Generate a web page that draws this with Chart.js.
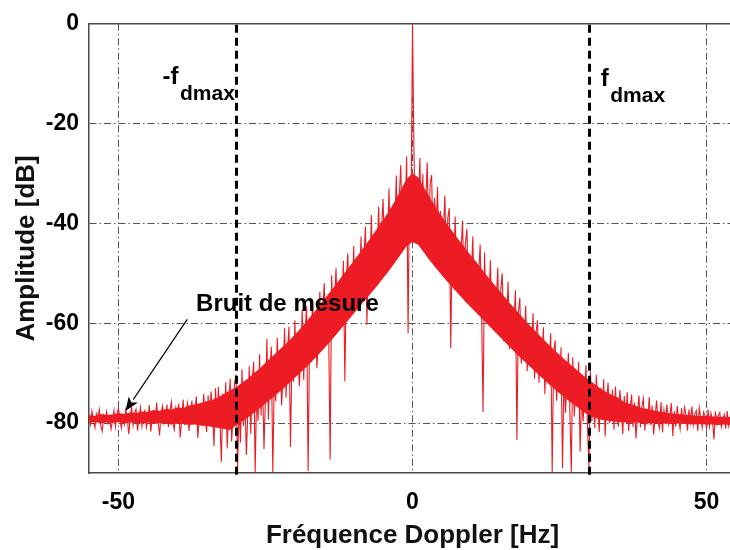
<!DOCTYPE html>
<html>
<head>
<meta charset="utf-8">
<script src="https://cdn.jsdelivr.net/npm/chart.js@4"></script>
<style>
  html, body { margin: 0; padding: 0; background: #fff; overflow: hidden; }
  #wrap { width: 736px; height: 550px; }
</style>
</head>
<body>
<div id="wrap"><canvas id="c" width="736" height="550"></canvas></div>
<script>
// ---- Data ----
const freqStart = -55;      // Hz, first sample
const freqStep = 0.25;      // Hz, sample spacing of the spectrum trace
const coreStep = 1;         // Hz, spacing of the dense-band edges

// Amplitude [dB], -55 .. -30.25 Hz (measurement noise floor, left)
const ampNoiseLeft = [
  -78.9,-80.3,-77.6,-79.4, -80.9,-78.1,-79.0,-77.3,
  -80.5,-81.6,-78.4,-79.2, -77.7,-80.0,-78.8,-81.2,
  -79.5,-77.5,-80.7,-78.2, -77.0,-79.1,-81.0,-78.6,
  -80.2,-77.4,-78.9,-82.2, -79.3,-76.8,-80.4,-78.0,
  -77.2,-81.5,-79.0,-76.9, -80.6,-78.3,-77.5,-80.9,
  -79.4,-76.4,-81.7,-78.8, -77.9,-80.2,-75.9,-79.6,
  -82.5,-78.0,-76.6,-80.1, -79.2,-76.3,-80.8,-77.7,
  -75.8,-79.9,-81.3,-77.0, -78.5,-76.1,-82.9,-79.3,
  -75.3,-80.4,-77.8,-76.0, -81.6,-78.2,-75.5,-80.0,
  -77.4,-74.7,-83.0,-79.1, -76.2,-80.6,-74.2,-78.7,
  -81.8,-74.5,-79.4,-73.7, -77.6,-84.6,-73.0,-80.3,
  -72.7,-78.9,-87.8,-74.1, -80.6,-71.8,-85.1,-76.4,
  -71.1,-83.7,-78.2,-72.0
];
// Amplitude [dB], -30 .. -0.25 Hz (Doppler spectrum, rising side)
const ampRiseLeft = [
  -70.3,-89.5,-76.8,-83.9, -69.2,-80.6,-73.5,-86.4, -77.9,-68.6,-82.2,-71.4,
  -67.7,-89.8,-74.0,-79.6, -66.2,-78.5,-70.8,-85.2, -74.6,-63.1,-79.3,-68.9,
  -64.7,-89.9,-71.3,-75.6, -62.9,-73.6,-67.8,-76.4, -70.2,-61.0,-74.9,-65.4,
  -60.7,-84.8,-67.1,-71.7, -59.4,-70.5,-63.8,-72.6, -66.9,-57.3,-71.3,-61.5,
  -56.6,-89.6,-63.7,-67.8, -55.2,-66.6,-59.9,-69.0, -62.4,-53.7,-65.5,-57.1,
  -52.0,-63.8,-56.4,-61.9, -87.3,-50.4,-60.1,-55.3, -49.0,-60.6,-53.5,-58.9,
  -56.8,-47.5,-71.6,-51.2, -46.0,-56.7,-50.3,-58.0, -44.5,-55.4,-49.6,-52.9,
  -51.7,-42.6,-54.3,-46.9, -40.6,-60.3,-45.2,-51.6, -38.3,-50.6,-43.9,-48.1,
  -45.7,-36.6,-49.9,-40.8, -35.1,-47.4,-39.6,-45.8, -33.0,-46.5,-37.4,-43.1,
  -40.9,-30.4,-45.3,-34.8, -28.3,-42.0,-32.6,-38.7, -26.6,-62.0,-30.9,-38.4
];
// Amplitude [dB] at 0 Hz (direct-path line)
const ampPeak = [0];
// Amplitude [dB], 0.25 .. 30 Hz (Doppler spectrum, falling side)
const ampFallRight = [
  -26.1,-39.6,-31.2,-37.8, -26.9,-40.7,-30.1,-42.4, -35.8,-27.8,-43.6,-32.0,
  -30.3,-45.1,-34.9,-41.6, -32.7,-47.2,-37.5,-44.0, -41.9,-34.4,-48.5,-38.9,
  -36.9,-65.0,-42.3,-49.6, -38.6,-51.4,-43.8,-47.5, -46.2,-39.4,-52.7,-44.1,
  -41.1,-54.6,-46.8,-51.0, -42.6,-56.2,-48.2,-53.3, -50.4,-44.2,-57.9,-77.8,
  -45.8,-58.6,-51.5,-55.1, -47.4,-60.9,-52.7,-57.8, -55.6,-48.9,-62.4,-53.2,
  -50.0,-63.6,-56.1,-60.2, -51.7,-65.2,-57.4,-62.0, -59.9,-53.4,-83.4,-57.8,
  -54.9,-68.1,-60.6,-64.9, -56.5,-69.6,-62.3,-66.8, -64.4,-58.0,-71.1,-61.9,
  -59.4,-71.9,-65.6,-69.4, -60.8,-74.2,-66.3,-71.3, -68.5,-62.0,-89.8,-65.9,
  -63.4,-75.5,-69.2,-72.8, -64.8,-89.0,-70.5,-77.9, -71.8,-65.9,-77.5,-89.9,
  -66.8,-78.7,-72.4,-75.8, -67.7,-85.7,-73.9,-79.7, -74.8,-68.4,-80.6,-89.0
];
// Amplitude [dB], 30.25 .. 55 Hz (measurement noise floor, right)
const ampNoiseRight = [
  -69.6,-79.7,-74.6,-81.0, -70.3,-76.2,-81.8,-72.9,
  -79.4,-71.2,-82.7,-75.8, -71.9,-80.0,-76.6,-73.3,
  -81.3,-72.7,-78.1,-80.7, -73.4,-76.9,-82.2,-74.6,
  -79.6,-73.8,-81.6,-77.2, -74.3,-80.8,-75.9,-83.1,
  -78.0,-74.5,-80.9,-76.8, -75.1,-81.5,-77.9,-79.7,
  -74.8,-80.4,-76.5,-82.3, -78.6,-75.5,-79.8,-81.0,
  -75.8,-81.9,-77.4,-79.5, -76.3,-80.2,-78.7,-76.0,
  -82.6,-77.6,-80.7,-76.6, -79.2,-81.2,-77.0,-80.0,
  -76.9,-78.4,-81.5,-77.3, -79.9,-76.7,-80.3,-78.1,
  -77.5,-81.6,-76.9,-79.0, -80.9,-77.8,-78.6,-81.3,
  -77.3,-80.6,-78.0,-79.4, -83.3,-77.7,-80.1,-78.5,
  -77.9,-80.8,-79.2,-78.3, -81.1,-77.6,-80.5,-78.8,
  -78.2,-80.3,-77.9,-81.4
];

// Edges of the solid (dense) part of the spectrum band, -55 .. 55 Hz every 1 Hz
const coreUpper = [
  -78.4,-78.6,-78.2,-78.4,-78.3,-78.0,-78.2,-77.9,-78.0,-77.7,
  -77.8,-77.4,-77.6,-77.2,-77.3,-76.9,-77.0,-76.5,-76.3,-76.0,
  -75.6,-75.3,-74.8,-74.1,-73.4,
  -72.8,-71.9,-71.1,-70.0,-69.1,-67.9,-66.8,-65.7,-64.6,-63.5,
  -62.3,-61.0,-59.6,-58.2,-56.7,-55.2,-53.7,-52.2,-50.6,-49.1,
  -47.5,-45.9,-44.3,-42.7,-41.0,-39.3,-37.5,-35.5,-33.3,-31.1,
  -30.0,
  -30.8,-32.9,-34.9,-36.8,-38.6,-40.3,-41.9,-43.5,-45.0,-46.5,
  -48.0,-49.5,-51.0,-52.4,-53.8,-55.2,-56.6,-57.9,-59.2,-60.5,
  -61.7,-62.9,-64.1,-65.2,-66.3,-67.4,-68.4,-69.4,-70.4,-71.3,
  -72.2,-73.1,-73.8,-74.4,-74.9,
  -75.8,-76.2,-76.6,-77.0,-77.2,-77.5,-77.7,-77.9,-78.1,-78.2,
  -78.3,-78.4,-78.5,-78.6,-78.6,-78.7,-78.7,-78.8,-78.8,-78.9
];
const coreLower = [
  -80.0,-79.8,-80.1,-79.9,-80.0,-79.8,-80.1,-79.9,-80.0,-80.1,
  -79.9,-80.2,-80.0,-80.1,-80.3,-80.1,-80.2,-80.4,-80.3,-80.5,
  -80.6,-80.8,-81.0,-81.2,-81.4,
  -80.5,-79.7,-78.9,-78.0,-77.1,-76.1,-75.1,-74.1,-73.1,-72.0,
  -70.9,-69.8,-68.7,-67.5,-66.3,-65.0,-63.7,-62.3,-60.9,-59.5,
  -58.1,-56.7,-55.3,-53.9,-52.5,-51.0,-49.5,-47.9,-46.2,-44.5,
  -43.7,
  -44.3,-45.9,-47.5,-49.0,-50.4,-51.8,-53.1,-54.4,-55.7,-56.9,
  -58.1,-59.3,-60.5,-61.7,-62.9,-64.1,-65.3,-66.5,-67.6,-68.7,
  -69.8,-70.9,-72.0,-73.0,-74.0,-75.0,-75.9,-76.8,-77.7,-78.5,
  -79.0,-79.3,-79.5,-79.7,-79.8,
  -79.9,-80.0,-79.9,-80.0,-80.1,-80.0,-80.1,-80.1,-80.2,-80.1,
  -80.2,-80.2,-80.3,-80.2,-80.3,-80.3,-80.4,-80.3,-80.4,-80.4
];

const xTickValues = [-50, 0, 50];
const yTickValues = [-80, -60, -40, -20, 0];
const fdmaxLines = [-30, 30];
const xTitle = 'Fréquence Doppler [Hz]';
const yTitle = 'Amplitude [dB]';
const noiseLabel = 'Bruit de mesure';

// ---- Build points ----
const amplitudes = [].concat(ampNoiseLeft, ampRiseLeft, ampPeak, ampFallRight, ampNoiseRight);
const points = amplitudes.map((a, i) => ({ x: freqStart + i * freqStep, y: a }));
const upperPts = coreUpper.map((a, i) => ({ x: freqStart + i * coreStep, y: a }));
const lowerPts = coreLower.map((a, i) => ({ x: freqStart + i * coreStep, y: a }));

const RED = 'rgb(237,28,36)';
const FONT = "'Liberation Sans', Arial, Helvetica, sans-serif";

const overlay = {
  id: 'overlay',
  afterDatasetsDraw(chart) {
    const { ctx, chartArea: ca, scales: { x, y } } = chart;
    ctx.save();
    // top frame
    ctx.strokeStyle = '#4a4a4a';
    ctx.lineWidth = 1.5;
    ctx.beginPath();
    ctx.moveTo(ca.left, ca.top);
    ctx.lineTo(ca.right, ca.top);
    ctx.stroke();

    // f_dmax dashed lines
    ctx.strokeStyle = '#000';
    ctx.lineWidth = 3;
    ctx.setLineDash([8, 5]);
    fdmaxLines.forEach(f => {
      const px = Math.round(x.getPixelForValue(f)) + 0.5;
      ctx.beginPath();
      ctx.moveTo(px, ca.top + 1);
      ctx.lineTo(px, ca.bottom + 5);
      ctx.stroke();
    });
    ctx.setLineDash([]);

    // labels -f_dmax / f_dmax
    ctx.fillStyle = '#000';
    ctx.textBaseline = 'alphabetic';
    ctx.textAlign = 'left';
    const drawSub = (main, sub, fx, fy) => {
      const px = x.getPixelForValue(fx), py = y.getPixelForValue(fy);
      ctx.font = 'bold 24px ' + FONT;
      ctx.fillText(main, px, py);
      const w = ctx.measureText(main).width;
      ctx.font = 'bold 21px ' + FONT;
      ctx.fillText(sub, px + w + 1.5, py + 16);
    };
    drawSub('-f', 'dmax', -42.5, -12.1);
    drawSub('f', 'dmax', 32.0, -12.5);

    // noise annotation
    ctx.font = 'bold 24px ' + FONT;
    ctx.fillText(noiseLabel, x.getPixelForValue(-36.8), y.getPixelForValue(-57.6));

    // arrow
    const sx = x.getPixelForValue(-38.3), sy = y.getPixelForValue(-59.2);
    const tx = x.getPixelForValue(-48.8), ty = y.getPixelForValue(-77.6);
    const ang = Math.atan2(ty - sy, tx - sx);
    const L = 14, H = 5.5;
    const bx = tx - L * Math.cos(ang), by = ty - L * Math.sin(ang);
    ctx.strokeStyle = '#000';
    ctx.lineWidth = 1.3;
    ctx.beginPath();
    ctx.moveTo(sx, sy);
    ctx.lineTo(bx, by);
    ctx.stroke();
    ctx.beginPath();
    ctx.moveTo(tx, ty);
    ctx.lineTo(bx + H * Math.sin(ang), by - H * Math.cos(ang));
    ctx.lineTo(bx + 0.25 * L * Math.cos(ang), by + 0.25 * L * Math.sin(ang));
    ctx.lineTo(bx - H * Math.sin(ang), by + H * Math.cos(ang));
    ctx.closePath();
    ctx.fill();
    ctx.restore();
  }
};

new Chart(document.getElementById('c'), {
  type: 'line',
  data: {
    datasets: [
      { // spectrum trace (drawn last, on top)
        data: points,
        borderColor: RED,
        borderWidth: 1.1,
        pointRadius: 0,
        tension: 0,
        fill: false
      },
      { // dense band, upper edge (filled down to the lower edge)
        data: upperPts,
        borderColor: RED,
        backgroundColor: RED,
        borderWidth: 0,
        pointRadius: 0,
        tension: 0,
        fill: '+1'
      },
      { // dense band, lower edge
        data: lowerPts,
        borderColor: RED,
        borderWidth: 0,
        pointRadius: 0,
        tension: 0,
        fill: false
      }
    ]
  },
  options: {
    responsive: false,
    animation: false,
    parsing: false,
    normalized: true,
    layout: { padding: { top: 19, right: 0, left: 0, bottom: 0 } },
    plugins: { legend: { display: false }, tooltip: { enabled: false } },
    scales: {
      x: {
        type: 'linear',
        min: -55, max: 55,
        afterBuildTicks: s => { s.ticks = xTickValues.map(v => ({ value: v })); },
        afterFit: s => { s.height = 77; },
        grid: { color: '#555', lineWidth: 1, drawTicks: false },
        border: { display: true, color: '#4a4a4a', width: 1.5, dash: [7, 3, 1.5, 3] },
        ticks: { padding: 16, color: '#000', font: { family: FONT, size: 23, weight: 'bold' }, maxRotation: 0 },
        title: { display: true, text: xTitle, color: '#111', font: { family: FONT, size: 26, weight: 'bold', lineHeight: 1 }, padding: { top: 0, bottom: 1 } }
      },
      y: {
        type: 'linear',
        min: -90, max: 0,
        afterBuildTicks: s => { s.ticks = yTickValues.map(v => ({ value: v })); },
        afterFit: s => { s.width = 89; },
        grid: { color: '#555', lineWidth: 1, drawTicks: false },
        border: { display: true, color: '#4a4a4a', width: 1.5, dash: [7, 3, 1.5, 3] },
        ticks: { padding: 10, color: '#000', font: { family: FONT, size: 23, weight: 'bold' } },
        title: { display: true, text: yTitle, color: '#111', font: { family: FONT, size: 26, weight: 'bold', lineHeight: 1 }, padding: { top: 14, bottom: 0 } }
      }
    }
  },
  plugins: [overlay]
});
</script>
</body>
</html>
